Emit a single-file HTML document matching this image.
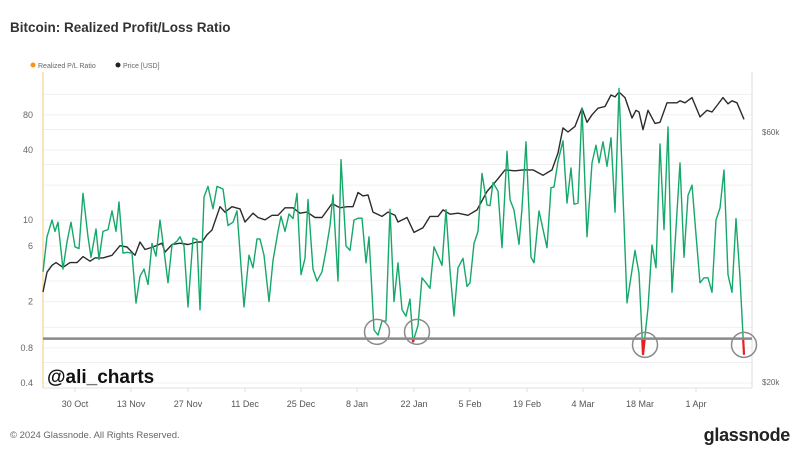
<!DOCTYPE html>
<html><head><meta charset="utf-8"><style>
body{margin:0;background:#fff;width:800px;height:449px;overflow:hidden;font-family:"Liberation Sans",sans-serif}
</style></head><body>
<svg id="c" width="800" height="449" xmlns="http://www.w3.org/2000/svg">
<text x="10" y="32" font-size="13.5" font-weight="bold" fill="#333">Bitcoin: Realized Profit/Loss Ratio</text>
<g>
<circle cx="33" cy="65" r="2.5" fill="#f7931a"/>
<text x="38" y="68" font-size="7" fill="#666">Realized P/L Ratio</text>
<circle cx="118" cy="65" r="2.5" fill="#222"/>
<text x="123" y="68" font-size="7" fill="#666">Price [USD]</text>
</g>
<g id="grid"></g><g id="axes"></g><g id="series"></g><g id="annot"></g>
<text x="47" y="383" font-size="19" font-weight="bold" fill="#111">@ali_charts</text>
<text x="10" y="438" font-size="9.5" fill="#666">© 2024 Glassnode. All Rights Reserved.</text>
<text x="790" y="441" font-size="18" font-weight="bold" fill="#222" text-anchor="end" letter-spacing="-0.3">glassnode</text>
</svg>
<script>
const ratioPts=[[0,3.6],[1,7.2],[2.25,10],[3,8],[3.75,9.6],[5,3.8],[6,6.5],[7,9.6],[8,5.9],[9,5.7],[10,17],[11.25,7.2],[12,4.8],[13.25,8.4],[14,4.6],[15,8],[16.25,8.3],[17.25,12],[18.25,8],[19,14.3],[20,5.2],[21,5.3],[22.25,5.2],[23.25,1.94],[24.25,3.3],[25.25,3.8],[26.25,2.8],[27.25,6.3],[28.25,4.9],[29.25,10],[30.25,5.5],[31.25,2.9],[32.25,6.1],[33.5,6.6],[34.25,7.2],[35.25,6],[36.25,1.8],[37.5,7],[38.5,6.8],[39.25,1.7],[40.25,15.8],[41.25,19.5],[42.5,12.5],[43.5,19.5],[44.25,19],[45,18.5],[46.25,9],[47.5,9.6],[48.5,12],[50.25,1.8],[51.5,5],[52.5,3.9],[53.5,6.9],[54.25,6.9],[55.25,5],[56.5,2],[57.5,4.5],[58.75,8],[59.5,10.8],[60.5,8],[61.5,11.3],[62.5,10.3],[63.5,17],[64.5,3.4],[65.5,4.7],[66.25,15],[67.5,3.8],[68.5,3],[69.75,3.6],[70.75,5.5],[71.75,9],[72.5,16.5],[73.75,3],[74.5,33],[75.75,6],[76.75,5.5],[77.75,10],[78.75,10.4],[79.75,10.4],[80.75,4.3],[81.5,7.2],[82.75,1.14],[83.75,1.03],[84.75,1.36],[85.75,1.36],[86.75,12.4],[87.75,2.0],[88.75,4.3],[89.75,1.7],[90.75,1.5],[91.75,2.1],[92.5,0.9],[93.75,1.25],[94.75,3.2],[95.75,2.9],[96.75,2.6],[97.75,5.9],[99.75,4.1],[100.75,12.3],[101.75,3.7],[102.75,1.5],[103.75,3.9],[105,4.7],[106,2.7],[106.75,2.9],[107.75,6.3],[108.75,8],[109.75,25.2],[111,13.5],[111.75,13.3],[112.5,21],[113.75,17.8],[114.75,5.8],[116,39],[116.75,15],[117.75,12.2],[119,6.2],[119.75,12.6],[120.75,47],[122,4.8],[122.75,4.3],[124,12],[126,5.8],[127,19],[127.75,19.3],[128.75,32],[130,48],[131,14],[132,28],[132.75,13.7],[133.75,14],[134.75,92],[136,7.2],[137.25,31],[138.25,44],[139,31],[140,47],[141,29],[142,51],[143,11.7],[144,135],[146,1.95],[148,5.5],[149,3.5],[150,0.7],[151.25,1.76],[152.25,6.1],[153.25,3.9],[154.25,45],[155.25,8.3],[156.25,63],[157.25,2.4],[158.25,8.5],[159.25,31],[160.25,4.8],[161.25,16.3],[162.25,20],[163.25,7.5],[164.25,2.9],[165.25,3.2],[166.25,3.2],[167.25,2.4],[168.25,10],[169.25,12.7],[170.25,27],[171.25,3.4],[172.25,2.4],[173.25,10.3],[174.25,3.2],[175.25,0.7]];
const pricePts=[[0,29.7],[1,32.4],[2.25,33.4],[3.25,33.8],[5,33.1],[6.75,33.8],[8.5,33.8],[10,34.7],[11.75,34.0],[13,34.5],[15,34.5],[17.25,34.9],[19.25,36.4],[21,36.2],[23,34.9],[24.25,37.0],[25.5,35.8],[27.5,36.2],[29.75,36.8],[30.5,35.4],[32.25,36.6],[34.25,36.8],[36.25,36.6],[38.5,37.0],[39.75,37.0],[41,38.2],[42.25,39.0],[44.25,43.2],[45.5,42.2],[47.25,43.2],[49.25,42.8],[50.5,40.4],[52.5,42.0],[53.75,41.2],[55.5,40.8],[57.25,41.6],[58.75,41.6],[60.5,43.0],[62.5,43.0],[64.25,42.0],[66,42.2],[68,41.2],[69.75,41.2],[72.25,43.8],[74.25,43.0],[76,43.2],[77.5,43.2],[78.75,46.0],[80,45.3],[81.25,45.5],[82.5,42.2],[84.75,41.4],[86.25,42.2],[88,41.6],[88.75,40.4],[91,41.2],[92.75,38.6],[95,39.4],[96.75,41.4],[98.75,41.4],[100,42.6],[101.75,41.8],[103.75,42.0],[106.25,41.6],[108.5,42.6],[111,46.2],[113.5,48.6],[115.5,50.8],[118,50.6],[120,50.8],[122.5,50.8],[125,49.6],[127.25,50.8],[128.75,54.7],[130,61.1],[131.25,60.0],[133,61.5],[134.75,66.6],[136,62.6],[137.25,64.7],[138.75,66.6],[140.5,67.1],[142,70.6],[143,70.0],[144,71.5],[145.5,69.8],[147.25,63.8],[148.25,66.0],[149,65.5],[150,60.6],[151.25,66.0],[153,62.3],[154.25,62.6],[156,68.2],[157.25,68.2],[158.5,68.2],[159.25,68.8],[160.5,68.2],[162.25,69.8],[164.25,64.1],[166,66.0],[167.25,65.5],[168.5,67.4],[170,69.8],[171.25,67.9],[172.25,68.8],[173.5,68.2],[175.25,63.4]];
const xTickLabels=["30 Oct","13 Nov","27 Nov","11 Dec","25 Dec","8 Jan","22 Jan","5 Feb","19 Feb","4 Mar","18 Mar","1 Apr"];
const xTickDays=[8,22,36.25,50.5,64.5,78.5,92.75,106.75,121,135,149.25,163.25];
const yTickValues=[0.4,0.8,2,6,10,40,80];
const yTickLabels=["0.4","0.8","2","6","10","40","80"];
const priceTickValues=[20,60];
const priceTickLabels=["$20k","$60k"];
const baselineValue=1;
const circleMarks=[[83.5,1.1],[93.5,1.1],[150.5,0.85],[175.25,0.85]];

const NS="http://www.w3.org/2000/svg";
const L=43,R=752,T=72,B=388;
const xS=d=>43+d*4;
const yS=v=>383-Math.log10(v/0.4)*116.5;
const pS=p=>382-Math.log10(p/20)*524;
function mk(tag,attrs,parent){const e=document.createElementNS(NS,tag);for(const k in attrs)e.setAttribute(k,attrs[k]);parent.appendChild(e);return e;}
const grid=document.getElementById('grid'),axes=document.getElementById('axes'),series=document.getElementById('series'),annot=document.getElementById('annot');
[0.6,1.2,3,4,20,30,60,120].concat(yTickValues).forEach(v=>{const y=yS(v);if(y<T||y>B)return;
const g=mk('line',{x1:L,x2:R,y1:y,y2:y,stroke:'#f0f0f0','stroke-width':1},grid);

});
let a=mk('line',{x1:L,x2:L,y1:T,y2:B,stroke:'#f7c87a','stroke-width':1},axes);


a=mk('line',{x1:R,x2:R,y1:T,y2:B,stroke:'#ddd','stroke-width':1},axes);


a=mk('line',{x1:L,x2:R,y1:B,y2:B,stroke:'#e2e2e2','stroke-width':1},axes);


yTickValues.forEach((v,i)=>{const t=mk('text',{x:33,y:yS(v)+3,'font-size':9,fill:'#666','text-anchor':'end'},axes);t.textContent=yTickLabels[i];

});
priceTickValues.forEach((v,i)=>{const t=mk('text',{x:762,y:pS(v)+3,'font-size':8,fill:'#666'},axes);t.textContent=priceTickLabels[i];

});
xTickDays.forEach((d,i)=>{const x=xS(d);
const tk=mk('line',{x1:x,x2:x,y1:B,y2:B+4,stroke:'#ddd'},axes);


const t=mk('text',{x:x,y:B+19,'font-size':9,fill:'#555','text-anchor':'middle'},axes);t.textContent=xTickLabels[i];

});
const defs=mk('defs',{},series);
const cp=mk('clipPath',{id:'below'},defs);
mk('rect',{x:L,y:yS(baselineValue)+1,width:R-L,height:B},cp);
const dR=ratioPts.map((p,i)=>(i?'L':'M')+xS(p[0]).toFixed(1)+' '+yS(p[1]).toFixed(1)).join(' ');
const dP=pricePts.map((p,i)=>(i?'L':'M')+xS(p[0]).toFixed(1)+' '+pS(p[1]).toFixed(1)).join(' ');
const pl=mk('path',{d:dP,fill:'none',stroke:'#2b2b2b','stroke-width':1.4,'stroke-linejoin':'round'},series);


const rl=mk('path',{d:dR,fill:'none',stroke:'#16a86a','stroke-width':1.4,'stroke-linejoin':'round'},series);


const rr=mk('path',{d:dR,fill:'none',stroke:'#e5201f','stroke-width':2.2,'clip-path':'url(#below)'},series);


const bl=mk('line',{x1:L,x2:R,y1:yS(baselineValue)+2,y2:yS(baselineValue)+2,stroke:'#8a8a8a','stroke-width':2.5},annot);


circleMarks.forEach(c=>{const e=mk('circle',{cx:xS(c[0]),cy:yS(c[1]),r:12.5,fill:'none',stroke:'#8a8a8a','stroke-width':1.5},annot);

});
</script>
</body></html>
